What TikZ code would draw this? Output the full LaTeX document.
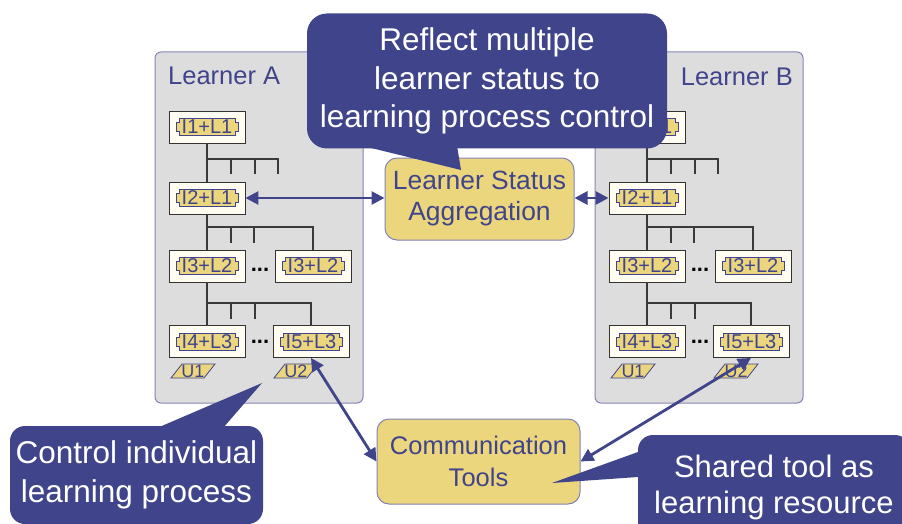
\documentclass[tikz,border=0pt]{standalone}
\usepackage{fontspec}
\setmainfont{Liberation Sans}
\usetikzlibrary{arrows.meta}
\definecolor{navy}{HTML}{40448A}
\definecolor{tagyellow}{HTML}{EBD67E}
\definecolor{panelgray}{HTML}{DDDDDD}
\definecolor{panelline}{HTML}{8484B4}
\definecolor{ifill}{HTML}{FFFCF2}
\definecolor{boxline}{HTML}{333333}
\definecolor{treeline}{HTML}{3A3A3A}
\newcommand\mytagbox[4]{%
  \node[ibox] (#1) at (#2,#3) {};
  \filldraw[tagshape] (#1.center) ++(-28,-8.5) -- ++(56,0) -- ++(0,4) -- ++(3,0)
    -- ++(0,9) -- ++(-3,0) -- ++(0,4) -- ++(-56,0) -- ++(0,-4) -- ++(-3,0)
    -- ++(0,-9) -- ++(3,0) -- cycle;
  \node[tagtext] (#1-t) at (#1.center) {#4};}
\newcommand\myulab[4]{%
  \coordinate (#1) at (#2,#3);
  \filldraw[tagshape] (#1) ++(-22,7) -- ++(11,-14) -- ++(33,0) -- ++(-11,14) -- cycle;
  \node[tagtext, font=\fontsize{18}{20}\selectfont] (#1-t) at (#1) {#4};}
\begin{document}
\begin{tikzpicture}[x=1pt,y=-1pt,
  panel/.style={draw=panelline, line width=1pt, fill=panelgray, rounded corners=6pt,
    minimum width=208pt, minimum height=351pt, inner sep=0pt},
  paneltitle/.style={text=navy, font=\fontsize{25.5}{30}\selectfont, inner sep=0pt},
  ibox/.style={draw=boxline, line width=0.9pt, fill=ifill, minimum width=76pt,
    minimum height=32pt, inner sep=0pt},
  tagshape/.style={fill=tagyellow, draw=navy, line width=0.8pt},
  tagtext/.style={text=navy, font=\fontsize{20}{22}\selectfont, inner sep=0pt},
  tree/.style={draw=treeline, line width=1.3pt},
  dotsnode/.style={font=\bfseries\fontsize{22}{24}\selectfont, inner sep=0pt},
  central/.style={draw=panelline, line width=1pt, fill=tagyellow, rounded corners=12pt,
    text=navy, align=center, inner sep=0pt},
  callout/.style={fill=navy, text=white, align=center, inner sep=0pt},
  link/.style={draw=navy, line width=2.8pt,
    {Triangle[length=13pt,width=13pt]}-{Triangle[length=13pt,width=13pt]}}
]
\useasboundingbox (0,0) rectangle (902,524);
\clip (0,0) rectangle (902,524);
\fill[white] (0,0) rectangle (902,524);

\foreach \p/\dx in {a/0,b/440}{
  \node[panel] (\p-panel) at (259+\dx,227.5) {};
  \draw[tree] (207+\dx,159) -| (278+\dx,174);
  \draw[tree] (231+\dx,159) -- (231+\dx,174);
  \draw[tree] (255+\dx,159) -- (255+\dx,174);
  \draw[tree] (231+\dx,227) -- (231+\dx,243);
  \draw[tree] (254+\dx,227) -- (254+\dx,243);
  \draw[tree] (231+\dx,303) -- (231+\dx,319);
  \draw[tree] (255+\dx,303) -- (255+\dx,319);
  \mytagbox{\p1}{207+\dx}{127}{I1+L1}
  \mytagbox{\p2}{207+\dx}{198}{I2+L1}
  \mytagbox{\p3}{207+\dx}{266}{I3+L2}
  \mytagbox{\p3r}{313+\dx}{266}{I3+L2}
  \mytagbox{\p4}{207+\dx}{341.5}{I4+L3}
  \mytagbox{\p5}{311+\dx}{341.5}{I5+L3}
  \draw[tree] (\p1) -- (\p2);
  \draw[tree] (\p2) -- (\p3);
  \draw[tree] (\p3) -- (\p4);
  \draw[tree] (207+\dx,227) -| (\p3r.north);
  \draw[tree] (207+\dx,303) -| (\p5.north);
  \node[dotsnode] (\p-dots1) at (260+\dx,270) {...};
  \node[dotsnode] (\p-dots2) at (260+\dx,342) {...};
  \myulab{\p-u1}{193+\dx}{371}{U1}
  \myulab{\p-u2}{296+\dx}{371}{U2}
}

\node[paneltitle, anchor=west] (atitle) at (168,76) {Learner A};
\node[paneltitle, anchor=east] (btitle) at (793,77) {Learner B};

\node[central, minimum width=189pt, minimum height=82pt,
  font=\fontsize{26.4}{31}\selectfont] (lsa) at (479.5,199) {Learner Status\\Aggregation};
\node[central, minimum width=203pt, minimum height=85pt,
  font=\fontsize{25.5}{32}\selectfont] (ct) at (478.5,461.5) {Communication\\Tools};

\draw[link] (a2.east) -- (a2.east -| lsa.west);
\draw[link] (lsa.east |- b2.west) -- (b2.west);
\draw[link] (a5.south) -- (ct.west);
\draw[link] (b5.south) -- (ct.east);

\fill[navy] (363,146) -- (461,170) -- (457,146) -- cycle;
\node[callout, minimum width=360pt, minimum height=135pt, rounded corners=20pt,
  font=\fontsize{31.5}{38.5}\selectfont] (c1) at (487,81) {Reflect multiple\\learner status to\\learning process control};

\fill[navy] (157,428) -- (262,383) -- (223,428) -- cycle;
\node[callout, minimum width=253pt, minimum height=98pt, rounded corners=15pt,
  font=\fontsize{31.5}{39}\selectfont] (c2) at (136.5,475) {Control individual\\learning process};

\fill[navy] (638,452) -- (552,483) -- (638,477) -- cycle;
\node[callout, minimum width=272pt, minimum height=104pt, rounded corners=15pt,
  font=\fontsize{31}{36}\selectfont] (c3) at (774,487) {Shared tool as\\learning resource};
\end{tikzpicture}
\end{document}
